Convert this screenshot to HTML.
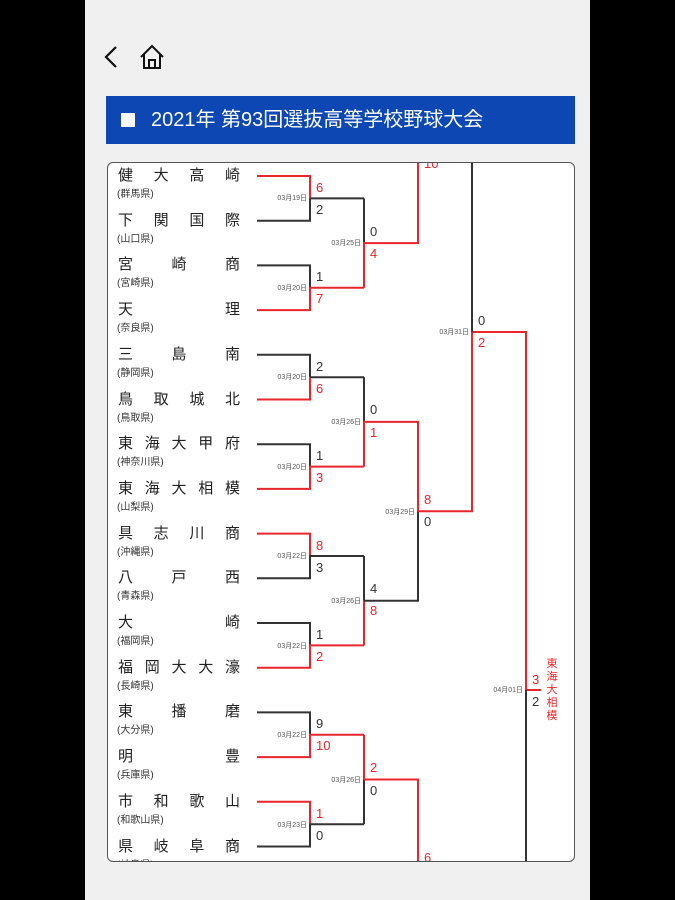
<!DOCTYPE html>
<html><head><meta charset="utf-8"><style>
*{margin:0;padding:0;box-sizing:border-box}
body{width:675px;height:900px;background:#000;position:relative;overflow:hidden;font-family:"Liberation Sans","Noto Sans CJK JP",sans-serif}
#page{position:absolute;left:85px;top:0;width:505px;height:900px;background:#f0f0f0}
#bar{position:absolute;left:106px;top:96px;width:469px;height:48px;background:#0d47b3;color:#fff;font-size:20px;line-height:48px}
#bar .sq{position:absolute;left:15px;top:17px;width:14px;height:14px;background:#fff}
#bar .t{position:absolute;left:45px;top:0}
#box{position:absolute;left:107px;top:162px;width:468px;height:700px;background:#fff;border:1.5px solid #555;border-radius:6px;overflow:hidden}
.nm{position:absolute;left:10px;width:122px;display:flex;justify-content:space-between;font-size:15px;line-height:18px;color:#222}
.pf{position:absolute;left:9px;font-size:10px;line-height:12px;color:#333}
</style></head><body>
<div id="page"></div>
<svg style="position:absolute;left:0;top:0" width="675" height="900">
<polyline points="116,47 106,57 116,67" fill="none" stroke="#111" stroke-width="2.2"/>
<path d="M141,57 L152,46 L163,57 M144,54 V68 H160 V54 M149,68 V60 H155 V68" fill="none" stroke="#111" stroke-width="2"/>
</svg>
<div id="bar"><div class="sq"></div><div class="t">2021年 第93回選抜高等学校野球大会</div></div>
<div id="box">
<div class="nm" style="top:4px"><span>健</span><span>大</span><span>高</span><span>崎</span></div><div class="pf" style="top:26px">(群馬県)</div>
<div class="nm" style="top:48.7px"><span>下</span><span>関</span><span>国</span><span>際</span></div><div class="pf" style="top:70.7px">(山口県)</div>
<div class="nm" style="top:93.4px"><span>宮</span><span>崎</span><span>商</span></div><div class="pf" style="top:115.4px">(宮崎県)</div>
<div class="nm" style="top:138.1px"><span>天</span><span>理</span></div><div class="pf" style="top:160.1px">(奈良県)</div>
<div class="nm" style="top:182.8px"><span>三</span><span>島</span><span>南</span></div><div class="pf" style="top:204.8px">(静岡県)</div>
<div class="nm" style="top:227.5px"><span>鳥</span><span>取</span><span>城</span><span>北</span></div><div class="pf" style="top:249.5px">(鳥取県)</div>
<div class="nm" style="top:272.2px"><span>東</span><span>海</span><span>大</span><span>甲</span><span>府</span></div><div class="pf" style="top:294.2px">(神奈川県)</div>
<div class="nm" style="top:316.9px"><span>東</span><span>海</span><span>大</span><span>相</span><span>模</span></div><div class="pf" style="top:338.9px">(山梨県)</div>
<div class="nm" style="top:361.6px"><span>具</span><span>志</span><span>川</span><span>商</span></div><div class="pf" style="top:383.6px">(沖縄県)</div>
<div class="nm" style="top:406.3px"><span>八</span><span>戸</span><span>西</span></div><div class="pf" style="top:428.3px">(青森県)</div>
<div class="nm" style="top:451px"><span>大</span><span>崎</span></div><div class="pf" style="top:473px">(福岡県)</div>
<div class="nm" style="top:495.7px"><span>福</span><span>岡</span><span>大</span><span>大</span><span>濠</span></div><div class="pf" style="top:517.7px">(長崎県)</div>
<div class="nm" style="top:540.4px"><span>東</span><span>播</span><span>磨</span></div><div class="pf" style="top:562.4px">(大分県)</div>
<div class="nm" style="top:585.1px"><span>明</span><span>豊</span></div><div class="pf" style="top:607.1px">(兵庫県)</div>
<div class="nm" style="top:629.8px"><span>市</span><span>和</span><span>歌</span><span>山</span></div><div class="pf" style="top:651.8px">(和歌山県)</div>
<div class="nm" style="top:674.5px"><span>県</span><span>岐</span><span>阜</span><span>商</span></div><div class="pf" style="top:696.5px">(岐阜県)</div>
<svg style="position:absolute;left:-108.5px;top:-163.5px" width="675" height="900" font-family="Liberation Sans, Noto Sans CJK JP, sans-serif">
<g fill="none" stroke-width="2">
<!-- R1 -->
<path stroke="#e8262b" d="M257,176H310V198.4"/><path stroke="#333" d="M257,220.7H310V198.4M310,198.4H364"/>
<path stroke="#333" d="M257,265.4H310V287.8"/><path stroke="#e8262b" d="M257,310.1H310V287.8H364"/>
<path stroke="#333" d="M257,354.8H310V377.2"/><path stroke="#e8262b" d="M257,399.5H310V377.2"/><path stroke="#333" d="M310,377.2H364"/>
<path stroke="#333" d="M257,444.2H310V466.6"/><path stroke="#e8262b" d="M257,488.9H310V466.6H364"/>
<path stroke="#e8262b" d="M257,533.6H310V556"/><path stroke="#333" d="M257,578.3H310V556H364"/>
<path stroke="#333" d="M257,623H310V645.4"/><path stroke="#e8262b" d="M257,667.7H310V645.4H364"/>
<path stroke="#333" d="M257,712.4H310V734.8"/><path stroke="#e8262b" d="M257,757.1H310V734.8H364"/>
<path stroke="#e8262b" d="M257,801.8H310V824.2"/><path stroke="#333" d="M257,846.5H310V824.2H364"/>
<!-- R2 -->
<path stroke="#333" d="M364,198.4V243.1"/><path stroke="#e8262b" d="M364,287.8V243.1H418V150"/>
<path stroke="#333" d="M364,377.2V421.9"/><path stroke="#e8262b" d="M364,466.6V421.9H418V511.3"/>
<path stroke="#333" d="M364,556V600.7"/><path stroke="#e8262b" d="M364,645.4V600.7"/><path stroke="#333" d="M364,600.7H418V511.3"/>
<path stroke="#e8262b" d="M364,734.8V779.5"/><path stroke="#333" d="M364,824.2V779.5"/><path stroke="#e8262b" d="M364,779.5H418V880"/>
<!-- QF/SF/F -->
<path stroke="#e8262b" d="M418,511.3H472V332H526V690H541"/>
<path stroke="#333" d="M472,150V332M526,690V880"/>
</g>
<g font-size="13" fill="#333">
<text x="316" y="192" fill="#e8262b">6</text><text x="316" y="214">2</text>
<text x="316" y="281">1</text><text x="316" y="303" fill="#e8262b">7</text>
<text x="316" y="371">2</text><text x="316" y="393" fill="#e8262b">6</text>
<text x="316" y="460">1</text><text x="316" y="482" fill="#e8262b">3</text>
<text x="316" y="550" fill="#e8262b">8</text><text x="316" y="572">3</text>
<text x="316" y="639">1</text><text x="316" y="661" fill="#e8262b">2</text>
<text x="316" y="728">9</text><text x="316" y="750" fill="#e8262b">10</text>
<text x="316" y="818" fill="#e8262b">1</text><text x="316" y="840">0</text>
<text x="370" y="236">0</text><text x="370" y="258" fill="#e8262b">4</text>
<text x="370" y="414">0</text><text x="370" y="437" fill="#e8262b">1</text>
<text x="370" y="593">4</text><text x="370" y="615" fill="#e8262b">8</text>
<text x="370" y="772" fill="#e8262b">2</text><text x="370" y="795">0</text>
<text x="424" y="168" fill="#e8262b">10</text>
<text x="424" y="504" fill="#e8262b">8</text><text x="424" y="526">0</text>
<text x="424" y="862" fill="#e8262b">6</text>
<text x="478" y="325">0</text><text x="478" y="347" fill="#e8262b">2</text>
<text x="532" y="684" fill="#e8262b">3</text><text x="532" y="706">2</text>
</g>
<g font-size="7" fill="#555" text-anchor="end">
<text x="307" y="200">03月19日</text><text x="307" y="290">03月20日</text>
<text x="307" y="379">03月20日</text><text x="307" y="469">03月20日</text>
<text x="307" y="558">03月22日</text><text x="307" y="648">03月22日</text>
<text x="307" y="737">03月22日</text><text x="307" y="827">03月23日</text>
<text x="361" y="245">03月25日</text><text x="361" y="424">03月26日</text>
<text x="361" y="603">03月26日</text><text x="361" y="782">03月26日</text>
<text x="415" y="514">03月29日</text><text x="469" y="334">03月31日</text>
<text x="523" y="692">04月01日</text>
</g>
<g font-size="11" fill="#e8262b" text-anchor="middle">
<text x="552" y="667">東</text><text x="552" y="680">海</text><text x="552" y="693">大</text><text x="552" y="706">相</text><text x="552" y="719">模</text>
</g>
</svg>
</div>
</body></html>
